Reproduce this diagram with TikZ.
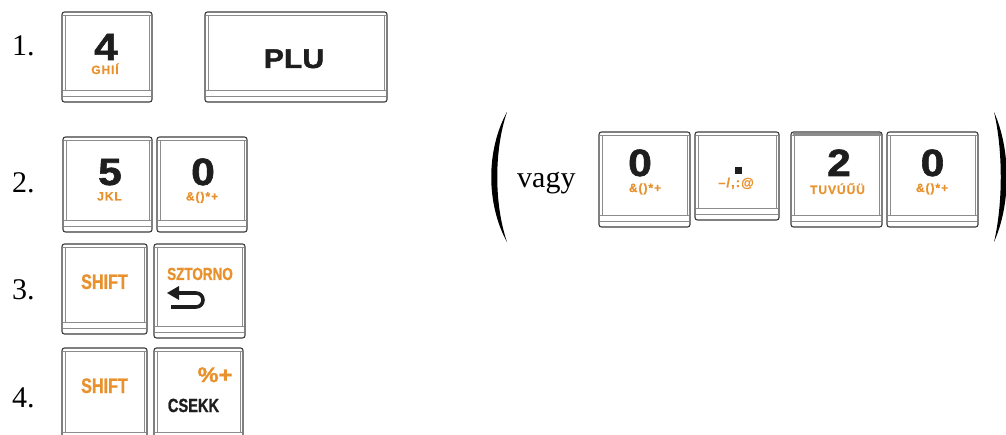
\documentclass[tikz,border=0pt]{standalone}
\usepackage{fontspec}
\setmainfont{Liberation Serif}
\newfontfamily\kfn[FakeBold=1.5,FakeStretch=1.12]{Liberation Sans}
\newfontfamily\kfc[FakeStretch=0.77,FakeBold=1]{Liberation Sans}
\newfontfamily\kfs[LetterSpace=8,FakeBold=0.5]{Liberation Sans}
\definecolor{keyorange}{RGB}{232,145,45}
\definecolor{keyedge}{RGB}{60,60,60}
\definecolor{keyinner}{RGB}{140,140,140}
\definecolor{keytext}{RGB}{30,30,30}
\tikzset{
  keybox/.style={draw=keyedge, line width=1.1pt, rounded corners=2.5pt, fill=white,
                 inner sep=0pt, outer sep=0pt, anchor=north west},
  keyline/.style={draw=keyinner, line width=0.6pt},
  bigdigit/.style={font=\kfn\bfseries\fontsize{38}{38}\selectfont, text=keytext, inner sep=0pt, anchor=base},
  smalllab/.style={font=\kfs\bfseries\fontsize{12}{12}\selectfont, text=keyorange, inner sep=0pt, anchor=base},
  condlab/.style={font=\kfc\bfseries\fontsize{#1}{#1}\selectfont, inner sep=0pt, anchor=base},
  steplabel/.style={font=\fontsize{30}{30}\selectfont, inner sep=0pt, anchor=base west},
  paren/.style={fill=black},
}
\newcommand\mykey[5]{%
  \node[keybox, minimum width=#4pt, minimum height=#5pt] (#1) at (#2,#3) {};
  \draw[keyline] ([xshift=1pt,yshift=-3.5pt]#1.north west) -- ([xshift=-1pt,yshift=-3.5pt]#1.north east);
  \draw[keyline] ([xshift=3pt,yshift=-3.5pt]#1.north west) -- ([xshift=3pt,yshift=12pt]#1.south west);
  \draw[keyline] ([xshift=-3pt,yshift=-3.5pt]#1.north east) -- ([xshift=-3pt,yshift=12pt]#1.south east);
  \draw[keyline] ([xshift=1pt,yshift=12pt]#1.south west) -- ([xshift=-1pt,yshift=12pt]#1.south east);
  \draw[keyline] ([xshift=1pt,yshift=6pt]#1.south west) -- ([xshift=-1pt,yshift=6pt]#1.south east);
}
\begin{document}
\begin{tikzpicture}[x=1pt, y=-1pt]
\useasboundingbox (0,0) rectangle (1006,435);
\clip (0,0) rectangle (1006,435);

% step labels
\node[steplabel] (n1) at (12,56) {1.};
\node[steplabel] (n2) at (12,193) {2.};
\node[steplabel] (n3) at (12,300) {3.};
\node[steplabel] (n4) at (12,407) {4.};

% row 1
\mykey{k4}{62}{12}{90}{90}
\node[bigdigit] (k4d) at (106,60) {4};
\node[smalllab] (k4s) at (105,74) {GHIÍ};
\mykey{plu}{205}{12}{182}{90}
\node[font=\kfn\bfseries\fontsize{27}{27}\selectfont, text=keytext, anchor=base, inner sep=0pt] (plut) at (294,68) {PLU};

% row 2
\mykey{k5}{63}{137}{89}{95}
\node[bigdigit] (k5d) at (110,185) {5};
\node[smalllab] (k5s) at (109.5,200.5) {JKL};
\mykey{k0a}{157}{137}{90}{95}
\node[bigdigit] (k0ad) at (203,185) {0};
\node[smalllab] (k0as) at (202,200.5) {\&()*+};

% row 3
\mykey{sh1}{62}{244}{85}{90}
\node[condlab=21, text=keyorange] (sh1t) at (104.5,289) {SHIFT};
\mykey{szt}{154}{244}{91}{94}
\node[condlab=17.5, text=keyorange] (sztt) at (200,280) {SZTORNO};
\fill[keytext] (167,293) -- (179,286) -- (179,300) -- cycle;
\draw[keytext, line width=3.6pt] (177,293) -- (196,293) arc[start angle=90, end angle=-90, radius=7pt] -- (171,307);

% row 4
\mykey{sh2}{62}{348}{85}{96}
\node[condlab=21, text=keyorange] (sh2t) at (104.5,393) {SHIFT};
\mykey{cs}{154}{348}{89}{96}
\node[font=\kfn\bfseries\fontsize{21}{21}\selectfont, text=keyorange, anchor=base, inner sep=0pt] (cspc) at (215,382) {\%+};
\node[condlab=19, text=keytext] (cst) at (193.5,412) {CSEKK};

% alternative group
\fill[paren] (507,112) .. controls (486,150) and (486,204) .. (507,242)
             .. controls (494,204) and (494,150) .. (507,112) -- cycle;
\node[steplabel] (vagy) at (517,188) {vagy};
\mykey{r0a}{599}{132}{91}{95}
\node[bigdigit] (r0ad) at (640,176) {0};
\node[smalllab] (r0as) at (645,192) {\&()*+};
\mykey{rdot}{695}{132}{84}{88}
\fill[keytext] (735,167) rectangle (742,174);
\node[smalllab, font=\kfs\bfseries\fontsize{13}{13}\selectfont] (rdots) at (736,187) {–/,:@};
\mykey{r2}{791}{132}{91}{95}
\fill[black!45] ([xshift=1.5pt,yshift=-0.6pt]r2.north west) rectangle ([xshift=-1.5pt,yshift=-3.2pt]r2.north east);
\node[bigdigit] (r2d) at (839,176) {2};
\node[smalllab] (r2s) at (837.5,194) {TUVÚŰÜ};
\mykey{r0b}{887}{132}{91}{95}
\node[bigdigit] (r0bd) at (932.5,176) {0};
\node[smalllab] (r0bs) at (932,192) {\&()*+};
\fill[paren] (994,112) .. controls (1011,150) and (1011,204) .. (994,242)
             .. controls (1003,204) and (1003,150) .. (994,112) -- cycle;
\end{tikzpicture}
\end{document}
